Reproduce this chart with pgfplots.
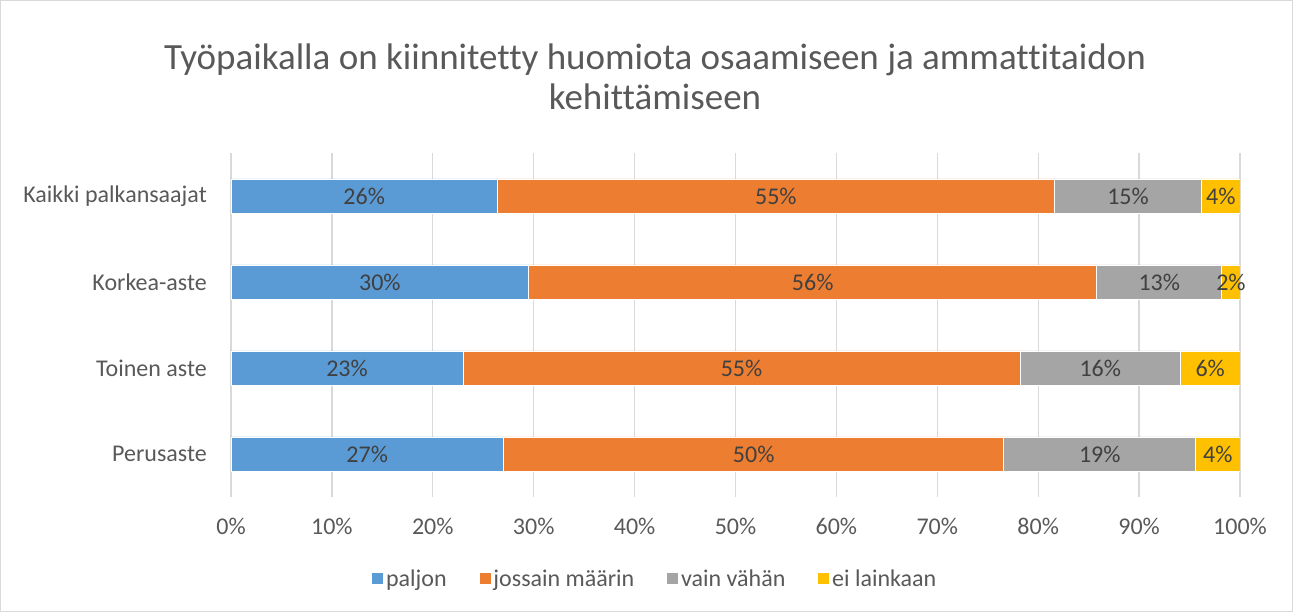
\documentclass[border=0pt]{standalone}
\usepackage{fontspec}
\setmainfont[Ligatures=CommonOff]{Carlito}
\usepackage{pgfplots}
\pgfplotsset{compat=1.18}
\definecolor{cA}{HTML}{5B9BD5}
\definecolor{cB}{HTML}{ED7D31}
\definecolor{cC}{HTML}{A5A5A5}
\definecolor{cD}{HTML}{FFC000}
\definecolor{gridgray}{HTML}{D9D9D9}
\definecolor{tickgray}{HTML}{595959}
\definecolor{labgray}{HTML}{404040}

\begin{document}
\begin{tikzpicture}[x=1pt,y=1pt]
\draw[draw=gridgray, line width=1pt] (0.5,0.5) rectangle (1292.5,611.5);
\node[font=\fontsize{37}{40}\selectfont, text=tickgray, align=center] at (655,535)
  {Työpaikalla on kiinnitetty huomiota osaamiseen ja ammattitaidon\\kehittämiseen};
\begin{axis}[
    at={(231pt,115pt)}, anchor=south west,
    scale only axis, width=1009pt, height=344pt,
    xbar stacked, bar width=34pt,
    xmin=0, xmax=100, ymin=-0.5, ymax=3.5,
    ytick={0,1,2,3},
    yticklabels={Perusaste,Toinen aste,Korkea-aste,Kaikki palkansaajat},
    xtick={0,10,...,100},
    xticklabels={0\%,10\%,20\%,30\%,40\%,50\%,60\%,70\%,80\%,90\%,100\%},
    xmajorgrids, grid style={gridgray, line width=1.3pt},
    axis line style={draw=none}, major tick length=0pt,
    tick label style={font=\fontsize{24}{28}\selectfont, text=tickgray, inner sep=0pt},
    yticklabel style={xshift=-24pt},
    xticklabel style={yshift=-21pt},
    legend columns=4,
    legend style={draw=none, at={(0.42,-0.238)}, anchor=center,
        font=\fontsize{24}{28}\selectfont, text=tickgray,
        /tikz/every even column/.append style={column sep=30pt}},
    legend image code/.code={\fill[#1] (0pt,-6pt) rectangle (12pt,6pt);},
]
\addplot[fill=cA, draw=white, line width=0.8pt] coordinates {(27.0,0) (23.0,1) (29.5,2) (26.4,3)};
\addlegendentry{paljon}
\addplot[fill=cB, draw=white, line width=0.8pt] coordinates {(49.6,0) (55.2,1) (56.3,2) (55.2,3)};
\addlegendentry{jossain määrin}
\addplot[fill=cC, draw=white, line width=0.8pt] coordinates {(19.0,0) (15.9,1) (12.4,2) (14.6,3)};
\addlegendentry{vain vähän}
\addplot[fill=cD, draw=white, line width=0.8pt] coordinates {(4.4,0) (5.9,1) (1.8,2) (3.8,3)};
\addlegendentry{ei lainkaan}
\end{axis}
\begin{axis}[
    at={(231pt,115pt)}, anchor=south west,
    scale only axis, width=1009pt, height=344pt,
    xmin=0, xmax=100, ymin=-0.5, ymax=3.5,
    hide axis,
    /pgf/number format/assume math mode=true,
]
\addplot[draw=none, mark=none, point meta=explicit,
    nodes near coords={\pgfmathprintnumber{\pgfplotspointmeta}\%},
    every node near coord/.style={anchor=center, inner sep=0pt,
        font=\fontsize{24}{28}\selectfont, text=labgray}]
  table[meta=v] {
x y v
13.5 0 27
51.8 0 50
86.1 0 19
97.8 0 4
11.5 1 23
50.6 1 55
86.15 1 16
97.05 1 6
14.75 2 30
57.65 2 56
92.0 2 13
99.1 2 2
13.2 3 26
54.0 3 55
88.9 3 15
98.1 3 4
};
\end{axis}
\end{tikzpicture}
\end{document}
